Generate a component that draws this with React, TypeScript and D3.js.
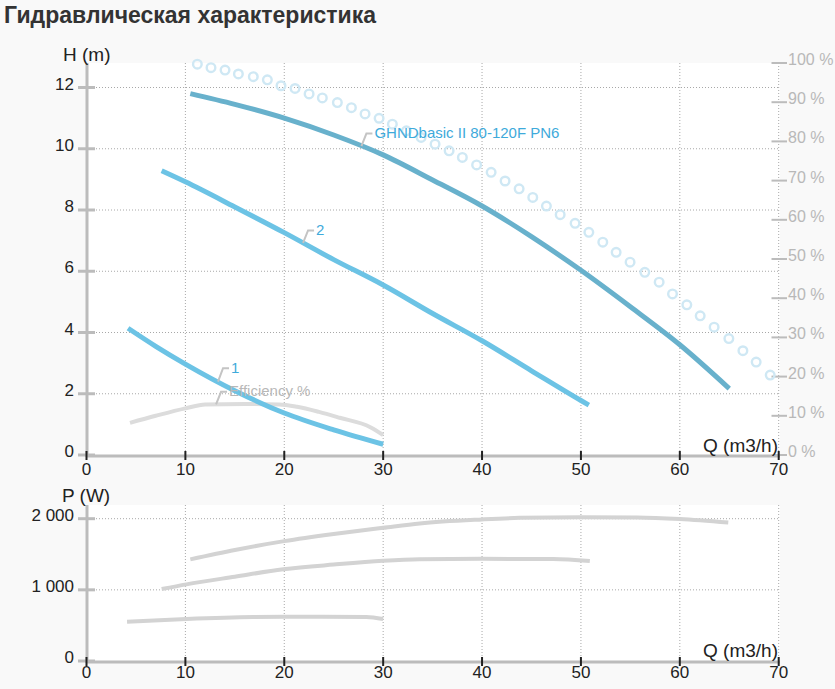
import React, { useEffect } from "react";
import * as d3 from "d3";

// ---- data ----
const xTicks = [0, 10, 20, 30, 40, 50, 60, 70];
const hTicks = [0, 2, 4, 6, 8, 10, 12];
const pctTicks = [0, 10, 20, 30, 40, 50, 60, 70, 80, 90, 100];
const pTicks = [0, 1000, 2000];
const pTickLabels = ["0", "1 000", "2 000"];

const qMain = [10.5, 15, 20, 25, 30, 35, 40, 45, 50, 55, 60, 65];
const hMain = [11.8, 11.45, 11.0, 10.45, 9.8, 8.98, 8.13, 7.13, 6.03, 4.84, 3.6, 2.17];

const q2 = [7.6, 10, 15, 20, 25, 30, 35, 40, 45, 50, 50.8];
const h2 = [9.28, 8.92, 8.1, 7.26, 6.38, 5.55, 4.62, 3.73, 2.75, 1.78, 1.63];

const q1 = [4.2, 7, 10, 15, 20, 25, 30];
const h1 = [4.14, 3.55, 2.97, 2.1, 1.37, 0.82, 0.35];

const qEff = [4.4, 7, 10, 12, 16, 19.5, 21.3, 23.5, 25.6, 28.7, 30];
const eff = [8.2, 10.0, 11.9, 12.9, 13.0, 12.9, 12.3, 11.0, 9.5, 7.1, 5.1];

const qDots = [11.21, 12.59, 14.01, 15.36, 16.87, 18.29, 19.67, 21.09, 22.51, 23.85, 25.37, 26.79, 28.17, 29.59, 30.93, 32.35, 33.84, 35.25, 36.67, 38.01, 39.45, 40.92, 42.33, 43.75, 45.13, 46.51, 47.9, 49.41, 50.8, 52.21, 53.56, 54.97, 56.46, 57.91, 59.26, 60.71, 62.06, 63.47, 64.96, 66.38, 67.72, 69.14];
const pctDots = [99.7, 98.8, 98.2, 97.2, 96.5, 95.7, 94.2, 93.5, 92.1, 91.1, 89.9, 88.6, 87.0, 85.9, 84.4, 82.7, 81.0, 79.3, 77.6, 75.9, 74.0, 72.1, 69.9, 67.9, 65.7, 63.5, 61.3, 59.1, 56.8, 54.3, 51.7, 49.2, 46.6, 44.1, 41.1, 38.3, 35.5, 32.6, 29.7, 26.6, 23.7, 20.4];

const qPMain = [10.5, 15, 20, 25, 30, 33.7, 40, 43.8, 50, 55.7, 60, 64.9];
const pMain = [1428, 1560, 1685, 1785, 1872, 1934, 1990, 2012, 2022, 2018, 1995, 1945];
const qP2 = [7.6, 10.1, 15, 19.9, 25, 30, 33.7, 40, 47.2, 50.9];
const pP2 = [1011, 1077, 1185, 1288, 1355, 1409, 1430, 1436, 1433, 1404];
const qP1 = [4.1, 10.1, 16.9, 20, 28.3, 30];
const pP1 = [552, 590, 618, 622, 620, 590];

const seriesName = "GHNDbasic II 80-120F PN6";

// ---- styles ----
const FONT = "'Liberation Sans', Arial, sans-serif";
const C_MAIN = "#68b1cc";
const C_SUB = "#6cc3e5";
const C_TEXT_BLUE = "#3eaadb";
const C_EFF = "#dcdcdc";
const C_POWER = "#d3d3d3";
const C_DOT = "#cfe8f4";
const C_AXIS = "#bcbcbc";
const C_GRID = "#a8a8a8";

export default function App() {
  useEffect(() => {
    document.body.style.margin = "0";
  }, []);

  const W = 835, H = 689;
  const left = 87, right = 779;
  const topT = 63, botT = 455;
  const topB = 505, botB = 661;

  const x = d3.scaleLinear().domain([0, 70]).range([left - 0.5, right - 0.3]);
  const yH = d3.scaleLinear().domain([0, 12]).range([455, 87.5]);
  const yPct = d3.scaleLinear().domain([0, 100]).range([455, 63]);
  const yP = d3.scaleLinear().domain([0, 2000]).range([661, 518.7]);

  const mk = (xs: number[], ys: number[], ys_: any) =>
    d3.line<number>().x((_, i) => x(xs[i])).y((_, i) => ys_(ys[i])).curve(d3.curveMonotoneX)(ys as any) as string;

  const interp = (xs: number[], ys: number[], q: number) => {
    for (let i = 0; i < xs.length - 1; i++) {
      if (q >= xs[i] && q <= xs[i + 1]) {
        const t = (q - xs[i]) / (xs[i + 1] - xs[i]);
        return ys[i] + t * (ys[i + 1] - ys[i]);
      }
    }
    return ys[ys.length - 1];
  };

  const labels = [
    { q: 27.8, y: yH(interp(qMain, hMain, 27.8)), text: seriesName, color: C_TEXT_BLUE },
    { q: 21.9, y: yH(interp(q2, h2, 21.9)), text: "2", color: C_TEXT_BLUE },
    { q: 13.3, y: yH(interp(q1, h1, 13.3)), text: "1", color: C_TEXT_BLUE, dy: -1 },
    { q: 13.1, y: yPct(interp(qEff, eff, 13.1)), text: "Efficiency %", color: "#b8b8b8" },
  ];

  const vGrid = xTicks.filter((t) => t > 0);

  return (
    <svg width={W} height={H} style={{ display: "block", background: "#f9f9f9" }} fontFamily={FONT}>
      <rect x={0} y={0} width={W} height={H} fill="#f9f9f9" />
      <text x={4} y={23} fontSize={23} fontWeight="bold" fill="#333">Гидравлическая характеристика</text>

      {/* ===== top chart ===== */}
      <rect x={left} y={topT} width={right - left + 1} height={botT - topT} fill="#fff" />
      {hTicks.filter((t) => t > 0).map((t) => (
        <line key={"hg" + t} x1={left} x2={right + 1} y1={yH(t)} y2={yH(t)} stroke={C_GRID} strokeDasharray="1,2" strokeWidth={1} />
      ))}
      {vGrid.map((t) => (
        <line key={"vg" + t} x1={x(t)} x2={x(t)} y1={topT} y2={botT} stroke={C_GRID} strokeDasharray="1,2" strokeWidth={1} />
      ))}
      {/* left axis */}
      <line x1={left} x2={left} y1={topT} y2={botT + 2} stroke={C_AXIS} strokeWidth={3} />
      {hTicks.map((t) => (
        <g key={"ht" + t}>
          <line x1={left - 9} x2={left + 8} y1={yH(t)} y2={yH(t)} stroke={C_AXIS} strokeWidth={3} />
          <text x={74} y={yH(t) + 2} fontSize={17} textAnchor="end" fill="#222">{t}</text>
        </g>
      ))}
      <text x={63} y={61} fontSize={19} fill="#222">H (m)</text>
      {/* right axis */}
      {pctTicks.map((t) => (
        <g key={"pt" + t}>
          <line x1={771.5} x2={787} y1={yPct(t)} y2={yPct(t)} stroke={C_AXIS} strokeWidth={2} />
          <text x={788} y={yPct(t) + 2} fontSize={16} fill="#b8b8b8">{t} %</text>
        </g>
      ))}
      {/* x axis */}
      <line x1={left} x2={right + 1} y1={456} y2={456} stroke={C_AXIS} strokeWidth={3} />
      {xTicks.map((t) => (
        <g key={"xt" + t}>
          <line x1={x(t)} x2={x(t)} y1={451} y2={460} stroke="#222" strokeWidth={2} />
          <text x={x(t)} y={475} fontSize={17} textAnchor="middle" fill="#222">{t}</text>
        </g>
      ))}
      <text x={778} y={452} fontSize={19} textAnchor="end" fill="#222">Q (m3/h)</text>

      {/* efficiency dots */}
      {qDots.map((q, i) => (
        <circle key={"d" + i} cx={x(q)} cy={yPct(pctDots[i])} r={4.3} fill="none" stroke={C_DOT} strokeWidth={2.4} />
      ))}
      {/* efficiency line */}
      <path d={mk(qEff, eff, yPct)} fill="none" stroke={C_EFF} strokeWidth={4} />
      {/* head curves */}
      <path d={mk(qMain, hMain, yH)} fill="none" stroke={C_MAIN} strokeWidth={5} />
      <path d={mk(q2, h2, yH)} fill="none" stroke={C_SUB} strokeWidth={5} />
      <path d={mk(q1, h1, yH)} fill="none" stroke={C_SUB} strokeWidth={5} />

      {/* labels with leaders */}
      {labels.map((l, i) => {
        const px = x(l.q);
        const py = l.y;
        const ty = py - 12.5 + (l.dy || 0);
        return (
          <g key={"lb" + i}>
            <path d={`M${px},${py} L${px + 5},${ty} L${px + 11},${ty}`} fill="none" stroke="#c4c4c4" strokeWidth={2} />
            <text x={px + 13} y={ty + 4.5} fontSize={15} fill={l.color}>{l.text}</text>
          </g>
        );
      })}

      {/* ===== bottom chart ===== */}
      <rect x={left} y={topB} width={right - left + 1} height={botB - topB} fill="#fff" />
      {pTicks.filter((t) => t > 0).map((t) => (
        <line key={"pg" + t} x1={left} x2={right + 1} y1={yP(t)} y2={yP(t)} stroke={C_GRID} strokeDasharray="1,2" strokeWidth={1} />
      ))}
      {vGrid.map((t) => (
        <line key={"vgb" + t} x1={x(t)} x2={x(t)} y1={topB} y2={botB} stroke={C_GRID} strokeDasharray="1,2" strokeWidth={1} />
      ))}
      <line x1={left} x2={left} y1={topB} y2={botB + 2} stroke={C_AXIS} strokeWidth={3} />
      {pTicks.map((t, i) => (
        <g key={"pyt" + t}>
          <line x1={left - 9} x2={left + 8} y1={yP(t)} y2={yP(t)} stroke={C_AXIS} strokeWidth={3} />
          <text x={74} y={yP(t) + 2} fontSize={17} textAnchor="end" fill="#222">{pTickLabels[i]}</text>
        </g>
      ))}
      <text x={62} y={502} fontSize={19} fill="#222">P (W)</text>
      <line x1={left} x2={right + 1} y1={662} y2={662} stroke={C_AXIS} strokeWidth={3} />
      {xTicks.map((t) => (
        <g key={"xtb" + t}>
          <line x1={x(t)} x2={x(t)} y1={657} y2={666} stroke="#222" strokeWidth={2} />
          <text x={x(t)} y={678} fontSize={17} textAnchor="middle" fill="#222">{t}</text>
        </g>
      ))}
      <text x={778} y={657} fontSize={19} textAnchor="end" fill="#222">Q (m3/h)</text>

      <path d={mk(qPMain, pMain, yP)} fill="none" stroke={C_POWER} strokeWidth={4} />
      <path d={mk(qP2, pP2, yP)} fill="none" stroke={C_POWER} strokeWidth={4} />
      <path d={mk(qP1, pP1, yP)} fill="none" stroke={C_POWER} strokeWidth={4} />
    </svg>
  );
}
